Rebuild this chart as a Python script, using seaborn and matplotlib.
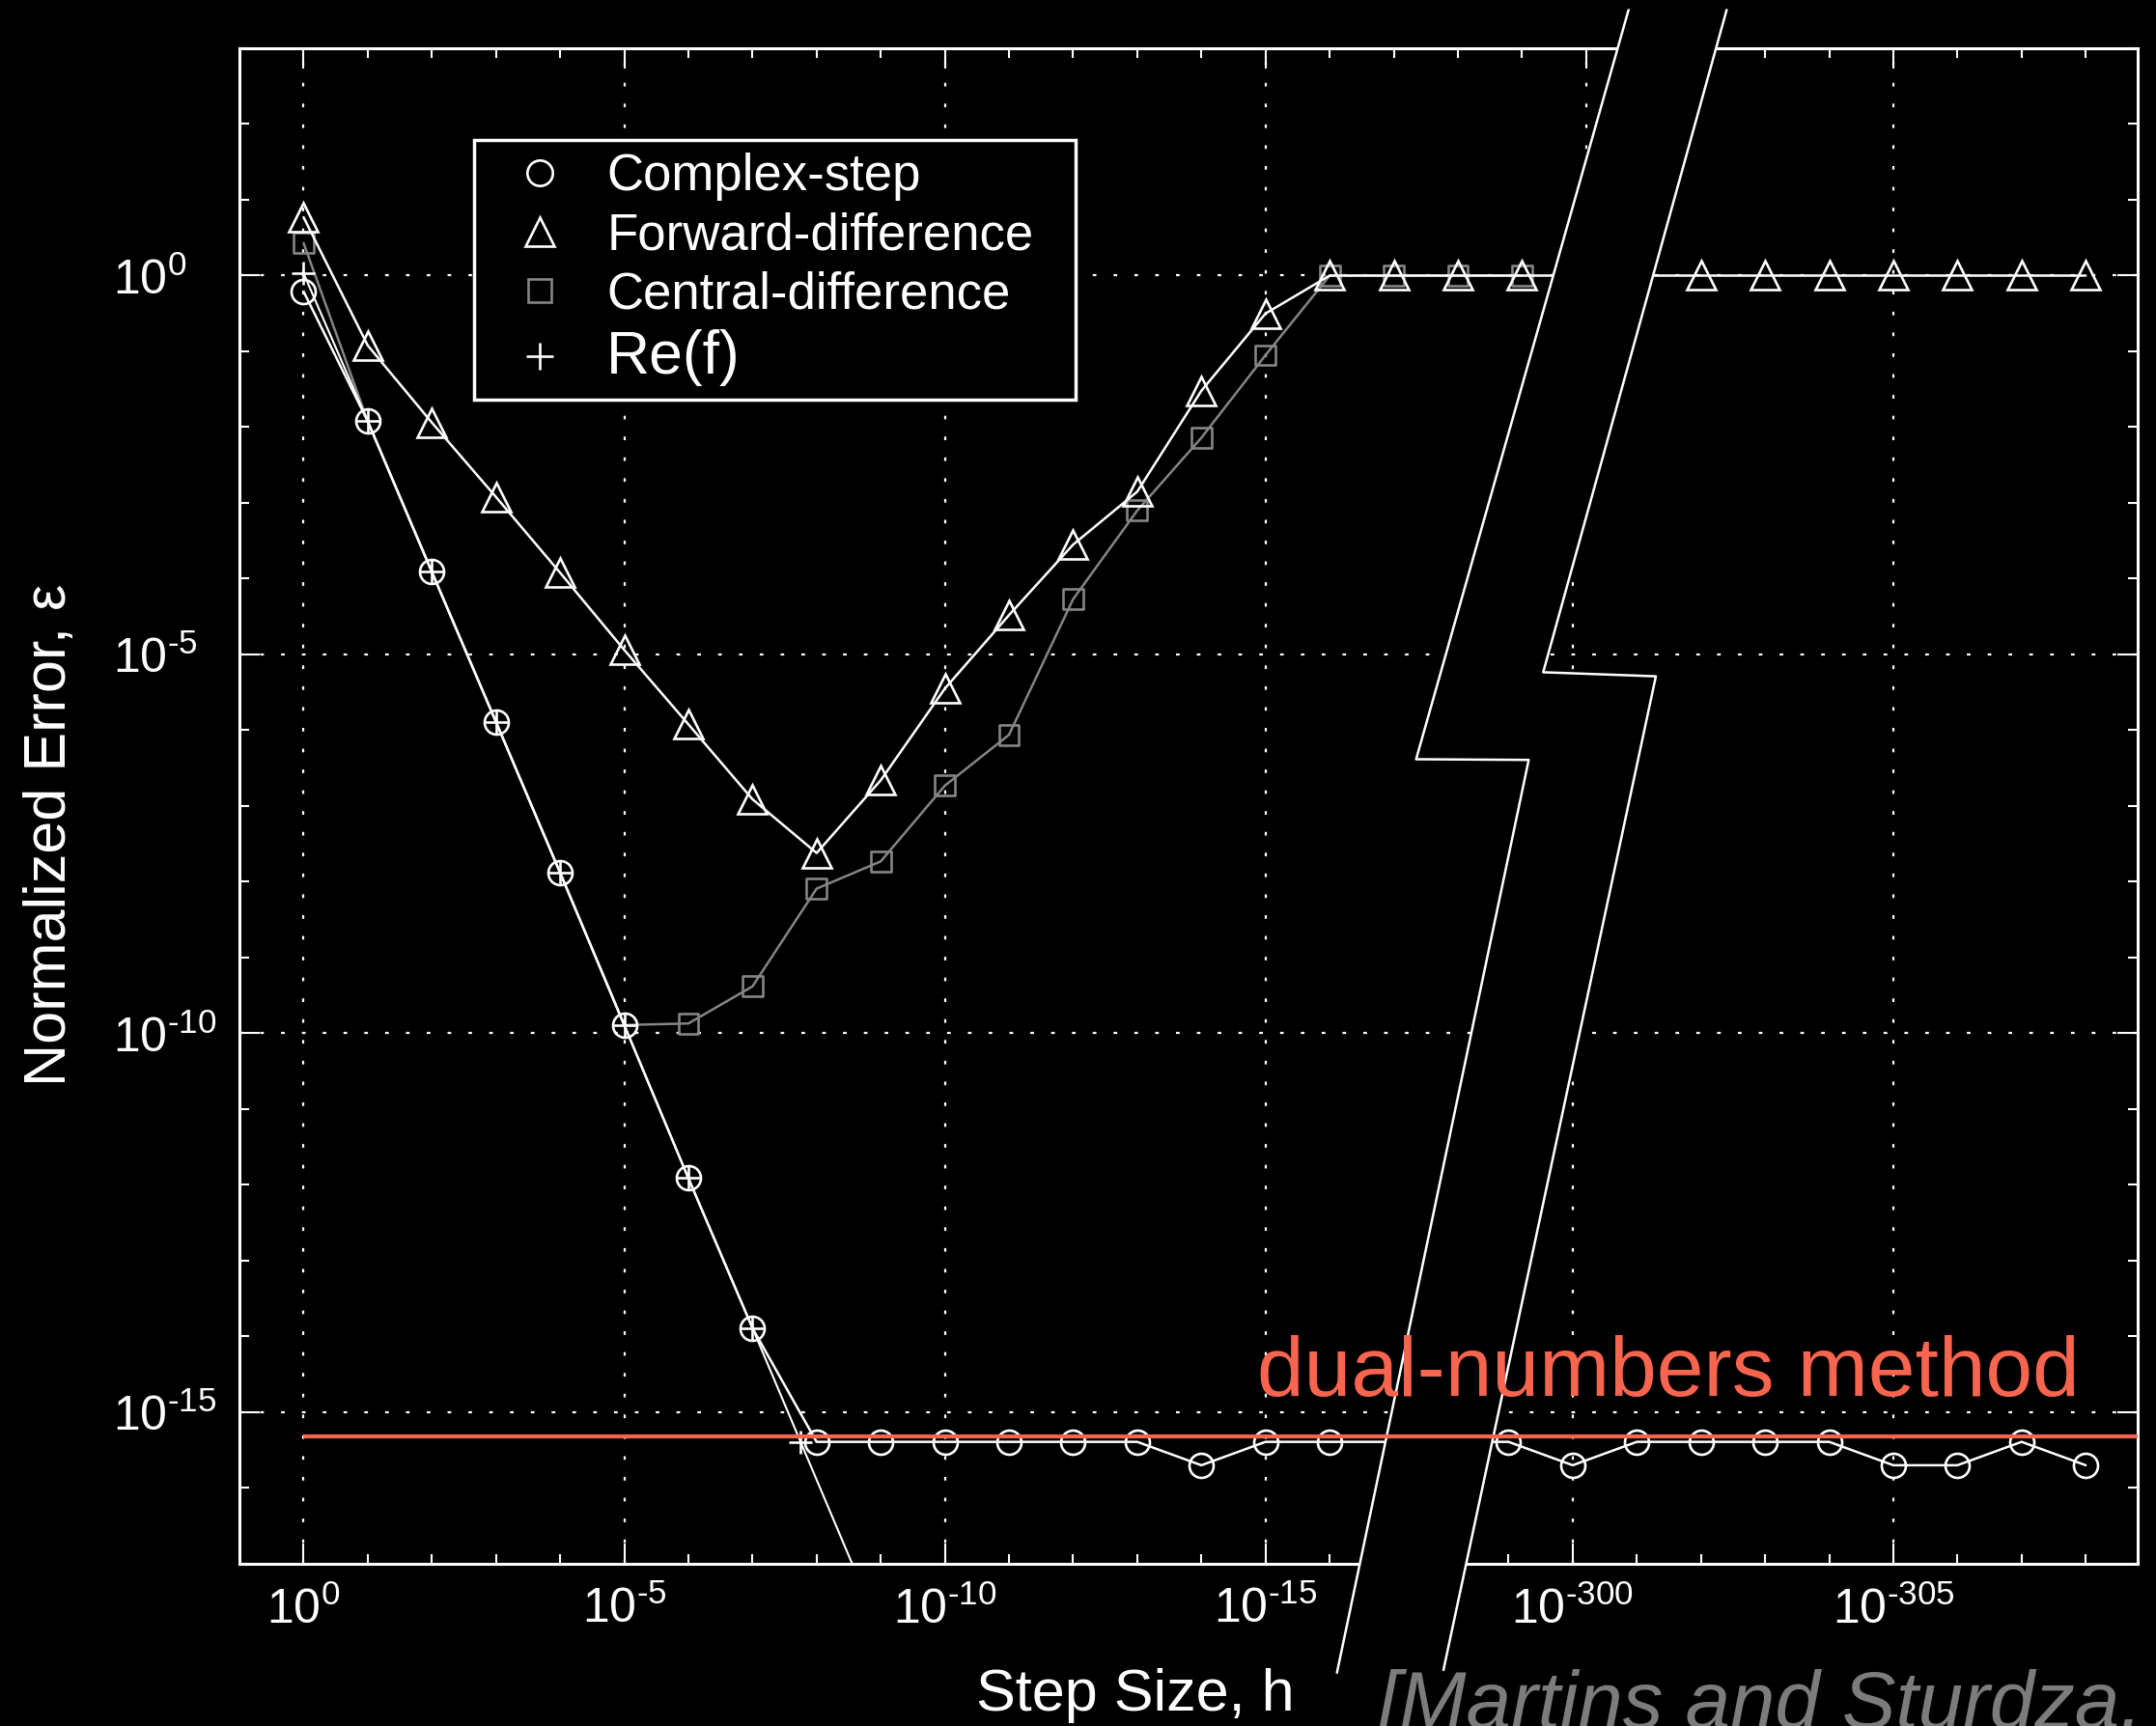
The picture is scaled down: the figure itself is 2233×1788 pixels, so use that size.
import numpy as np
import pandas as pd
import seaborn as sns
import matplotlib
matplotlib.use("Agg")
import matplotlib.pyplot as plt
from matplotlib.lines import Line2D
from matplotlib.patches import Polygon
from matplotlib.ticker import NullFormatter
from matplotlib.mathtext import MathTextParser

# ---------------------------------------------------------------------------
# Data: step size h = 10**(-k); normalized error of each derivative estimate
# ---------------------------------------------------------------------------
cs_k = list(range(0, 17)) + list(range(299, 309))
cs_err = [6.17e-01, 1.20e-02, 1.23e-04, 1.29e-06, 1.32e-08, 1.29e-10,
          1.23e-12, 1.29e-14, 4.07e-16, 4.07e-16, 4.07e-16, 4.07e-16,
          4.07e-16, 4.07e-16, 2.00e-16, 4.07e-16, 4.07e-16,
          4.07e-16, 2.00e-16, 4.07e-16, 4.07e-16, 4.07e-16, 4.07e-16,
          2.00e-16, 2.00e-16, 4.07e-16, 2.00e-16]

fd_k = list(range(0, 20)) + list(range(302, 309))
fd_err = [5.89e+00, 1.20e-01, 1.15e-02, 1.20e-03, 1.20e-04, 1.15e-05,
          1.20e-06, 1.23e-07, 2.40e-08, 2.19e-07, 3.55e-06, 3.31e-05,
          2.82e-04, 1.41e-03, 3.02e-02, 3.16e-01, 1.0, 1.0, 1.0, 1.0,
          1.0, 1.0, 1.0, 1.0, 1.0, 1.0, 1.0]

cd_k = list(range(0, 20))
cd_err = [2.69e+00, 1.20e-02, 1.23e-04, 1.29e-06, 1.32e-08, 1.29e-10,
          1.35e-10, 4.17e-10, 8.13e-09, 1.86e-08, 1.86e-07, 8.71e-07,
          5.37e-05, 7.94e-04, 7.24e-03, 8.91e-02, 1.0, 1.0, 1.0, 1.0]

re_k = [0, 1, 2, 3, 4, 5, 6, 7, 7.75, 9]
re_err = [1.07e+00, 1.20e-02, 1.23e-04, 1.29e-06, 1.32e-08, 1.29e-10,
          1.23e-12, 1.29e-14, 4.07e-16, 1.29e-18]

DUAL_ERR = 4.8e-16

series_names = ["Complex-step", "Forward-difference", "Central-difference", "Re(f)"]

bottom_major_k = [0, 5, 10, 15, 300, 305]
bottom_minor_k = list(range(0, 17)) + list(range(299, 309))
top_major_k = [0, 5, 10, 15, 20, 305]
top_minor_k = list(range(0, 21)) + list(range(302, 309))
y_major_exp = [0, -5, -10, -15]
y_minor_exp = list(range(-17, 4))

# exponents past the axis break are shifted onto the same axis
BREAK_SHIFT = 280.21


def axis_pos(k):
    k = np.asarray(k, dtype=float)
    return np.where(k > 100, k - BREAK_SHIFT, k)


try:
    MathTextParser("path").parse(r"$10^{\text{-}5}$")
    HYPHEN = r"\text{-}"
except Exception:
    HYPHEN = "-"


def power_label(k):
    return r"$10^{%s}$" % ("0" if k == 0 else HYPHEN + str(abs(k)))


# ---------------------------------------------------------------------------
# Style
# ---------------------------------------------------------------------------
W, H = 2233, 1788
RED = "#F8654F"
GREY = "#858585"

sns.set_theme(style="ticks", rc={
    "figure.facecolor": "black", "axes.facecolor": "black",
    "axes.edgecolor": "white", "axes.labelcolor": "white",
    "text.color": "white", "xtick.color": "white", "ytick.color": "white",
    "axes.linewidth": 2.2, "axes.grid": False,
})
plt.rcParams["font.family"] = ["Liberation Sans", "DejaVu Sans"]
plt.rcParams["mathtext.fontset"] = "custom"
plt.rcParams["mathtext.rm"] = "Liberation Sans"
plt.rcParams["mathtext.it"] = "Liberation Sans:italic"
plt.rcParams["mathtext.bf"] = "Liberation Sans:bold"

fig = plt.figure(figsize=(W / 100, H / 100), dpi=100)
ax = fig.add_axes([248 / W, 1 - 1620 / H, (2214 - 248) / W, (1620 - 50) / H])
ax.set_yscale("log")

cs = pd.DataFrame({"pos": axis_pos(cs_k), "err": cs_err})
fd = pd.DataFrame({"pos": axis_pos(fd_k), "err": fd_err})
cd = pd.DataFrame({"pos": axis_pos(cd_k), "err": cd_err})
re = pd.DataFrame({"pos": axis_pos(re_k), "err": re_err})

# central-difference squares are hidden where they coincide with complex-step
cs_lookup = dict(zip(cs_k, cs_err))
cd_shown = np.array([not (k in cs_lookup and
                          np.isclose(e, cs_lookup[k], rtol=1e-6, atol=0.0))
                     for k, e in zip(cd_k, cd_err)])

line_kw = dict(ax=ax, estimator=None, sort=True, legend=False)
sns.lineplot(data=cd, x="pos", y="err", color=GREY, linewidth=1.8, zorder=2, **line_kw)
sns.scatterplot(data=cd[cd_shown], x="pos", y="err", ax=ax, legend=False,
                marker="s", s=15 ** 2, color=GREY, facecolor="none",
                edgecolor=GREY, linewidth=1.9, zorder=2.1)
sns.lineplot(data=fd, x="pos", y="err", color="white", linewidth=1.8,
             marker="^", markersize=21, markerfacecolor="none",
             markeredgecolor="white", markeredgewidth=1.9, zorder=3, **line_kw)
sns.lineplot(data=re, x="pos", y="err", color="white", linewidth=1.5,
             marker="+", markersize=17, markeredgecolor="white",
             markeredgewidth=1.9, zorder=3.5, **line_kw)
sns.lineplot(data=cs, x="pos", y="err", color="white", linewidth=1.8,
             marker="o", markersize=18, markerfacecolor="none",
             markeredgecolor="white", markeredgewidth=1.9, zorder=4, **line_kw)

ax.set_xlim(-1, 28.6)
ax.set_ylim(1e-17, 1e3)

# ---------------------------------------------------------------------------
# Axis break band (pixel outline, y measured from the top)
# ---------------------------------------------------------------------------
left_edge = [(1686.7, 10.3), (1466.7, 786.5), (1583.3, 787.2), (1384.7, 1732.8)]
right_edge = [(1788.3, 10.3), (1598.3, 696.4), (1715.0, 700.6), (1495.0, 1730.0)]


def to_fig(pts):
    return [(x / W, 1 - y / H) for x, y in pts]


left_region = Polygon(to_fig([(0, 0), (left_edge[0][0], 0)] + left_edge +
                             [(left_edge[-1][0], H), (0, H)]),
                      closed=True, transform=fig.transFigure)
right_region = Polygon(to_fig([(right_edge[0][0], 0), (W, 0), (W, H),
                               (right_edge[-1][0], H)] + right_edge[::-1]),
                       closed=True, transform=fig.transFigure)

band = Polygon(to_fig(left_edge + right_edge[::-1]), closed=True,
               transform=fig.transFigure, facecolor="black", edgecolor="none",
               zorder=5)
band.set_clip_on(False)
ax.add_artist(band)
for edge in (left_edge, right_edge):
    xs, ys = zip(*to_fig(edge))
    ln = Line2D(xs, ys, transform=fig.transFigure, color="white",
                linewidth=1.8, zorder=5.1)
    ln.set_clip_on(False)
    ax.add_artist(ln)

# ---------------------------------------------------------------------------
# Grid
# ---------------------------------------------------------------------------
DOTS = (0, (1.7, 8))
ax.yaxis.grid(True, which="major", color="white", linewidth=1.6, linestyle=DOTS)
for k in [0, 5, 10, 15, 20]:
    gl = ax.axvline(float(axis_pos(k)), color="white", linewidth=1.6,
                    linestyle=DOTS, zorder=1)
    if k == 20:
        gl.set_clip_path(left_region)
for k in [300, 305]:
    gl = ax.axvline(float(axis_pos(k)), color="white", linewidth=1.6,
                    linestyle=DOTS, zorder=1)
    if k == 300:
        gl.set_clip_path(right_region)

# ---------------------------------------------------------------------------
# Ticks
# ---------------------------------------------------------------------------
ax.set_xticks(axis_pos(bottom_major_k), labels=[power_label(k) for k in bottom_major_k])
ax.set_xticks(axis_pos(bottom_minor_k), minor=True)
ax.set_yticks([10.0 ** e for e in y_major_exp], labels=[power_label(e) for e in y_major_exp])
ax.set_yticks([10.0 ** e for e in y_minor_exp], minor=True)
ax.yaxis.set_minor_formatter(NullFormatter())

ax.tick_params(axis="x", which="both", direction="in", bottom=True, top=False,
               labelsize=36, pad=17)
ax.tick_params(axis="y", which="both", direction="in", left=True, right=True,
               labelsize=36, pad=94)
ax.tick_params(which="major", length=15, width=1.5)
ax.tick_params(which="minor", length=7.5, width=1.5)

sec = ax.secondary_xaxis("top")
sec.set_ticks(axis_pos(top_major_k))
sec.set_ticks(axis_pos(top_minor_k), minor=True)
sec.xaxis.set_major_formatter(NullFormatter())
sec.xaxis.set_minor_formatter(NullFormatter())
sec.tick_params(axis="x", which="both", direction="in", labeltop=False, colors="white")
sec.tick_params(which="major", length=15, width=1.5)
sec.tick_params(which="minor", length=7.5, width=1.5)
sec.spines["top"].set_color("white")
sec.spines["top"].set_linewidth(2.2)

plt.setp(ax.get_yticklabels(), ha="left")

# ---------------------------------------------------------------------------
# Labels, legend, annotations
# ---------------------------------------------------------------------------
ax.set_xlabel("Step Size, h", fontsize=44)
ax.xaxis.set_label_coords(0.4718, -0.0968)
ax.xaxis.label.set_va("baseline")
ax.set_ylabel("Normalized Error, \u03b5", fontsize=44)
ax.yaxis.set_label_coords(-0.0916, 0.4809)
ax.yaxis.label.set_va("baseline")

handles = [
    Line2D([], [], ls="none", marker="o", ms=19, mfc="none", mec="white", mew=1.9),
    Line2D([], [], ls="none", marker="^", ms=22, mfc="none", mec="white", mew=1.9),
    Line2D([], [], ls="none", marker="s", ms=17, mfc="none", mec=GREY, mew=1.9),
    Line2D([], [], ls="none", marker="+", ms=20, mec="white", mew=1.9),
]
x0 = (491 - 248) / 1966
top = (1620 - 145) / 1570
leg = ax.legend(handles, series_names, loc="upper left",
                bbox_to_anchor=(x0, 0.3, (1114 - 491) / 1966, top - 0.3),
                mode="expand", borderaxespad=0, fontsize=38, labelcolor="white",
                frameon=True, fancybox=False, edgecolor="white",
                facecolor="black", framealpha=1, numpoints=1,
                handlelength=2.07, handletextpad=0.28, borderpad=0.25,
                labelspacing=0.21)
leg.get_frame().set_linewidth(2.5)
leg.get_texts()[3].set_fontsize(45)
leg.set_zorder(7)

ax.hlines(DUAL_ERR, float(axis_pos(0)), 28.6, colors=RED, linewidth=3, zorder=6)
fig.text(2154 / W, 1 - 1446 / H, "dual-numbers method", color=RED,
         fontsize=63, ha="right", va="baseline")
fig.text(1427 / W, 1 - 1790 / H, "[Martins and Sturdza, 2003]", color="#7c7c7c",
         fontsize=60, style="italic", ha="left", va="baseline")

fig.savefig("out.png", dpi=100, facecolor="black")
